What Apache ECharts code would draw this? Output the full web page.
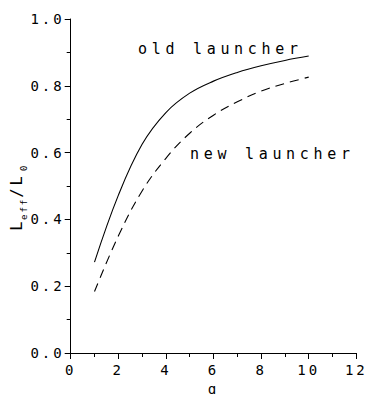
<!DOCTYPE html>
<html><head><meta charset="utf-8">
<script src="https://cdn.jsdelivr.net/npm/echarts@6/dist/echarts.min.js"></script>
<style>
html,body{margin:0;padding:0;background:#fff;}
#c{width:366px;height:394px;}
#c text[style*="14px"]{letter-spacing:3px;}
#c text[style*="15px"]{letter-spacing:4.7px;}
#c text[style*="15.5px"]{letter-spacing:3px;}
#c text[style*="9px"]{letter-spacing:2px;}
</style></head><body><div id="c"></div>
<script>
const qValues      = [1, 2, 3, 4, 5, 6, 7, 8, 9, 10];
const oldLauncher  = [0.272, 0.472, 0.625, 0.720, 0.778, 0.814, 0.840, 0.860, 0.876, 0.889];
const newLauncher  = [0.184, 0.350, 0.485, 0.583, 0.658, 0.712, 0.752, 0.784, 0.807, 0.826];
const seriesNames  = ['old launcher', 'new launcher'];
const xTickLabels  = ['0', '2', '4', '6', '8', '10', '12'];
const yTickLabels  = ['0.0', '0.2', '0.4', '0.6', '0.8', '1.0'];
const xName = 'q';

const FONT = "'DejaVu Sans Mono', monospace";
const pairs = (ys) => qValues.map((q, i) => [q, ys[i]]);

const chart = echarts.init(document.getElementById('c'), null, {renderer: 'svg'});
chart.setOption({
  animation: false,
  backgroundColor: '#fff',
  grid: {left: 70.7, right: 9.7, top: 19, bottom: 41, containLabel: false, outerBoundsMode: 'none'},
  xAxis: {
    type: 'value', min: 0, max: 12, interval: 2,
    name: xName, nameLocation: 'middle', nameGap: 25,
    nameTextStyle: {fontFamily: FONT, fontSize: 14, lineHeight: 12, color: '#000'},
    axisLine: {show: true, onZero: false, lineStyle: {color: '#000', width: 1}},
    axisTick: {show: true, inside: false, length: 6, lineStyle: {color: '#000', width: 1}},
    minorTick: {show: true, splitNumber: 2, length: 4, lineStyle: {color: '#000', width: 1}},
    splitLine: {show: false},
    axisLabel: {fontFamily: FONT, fontSize: 14, color: '#000', margin: 10,
      formatter: (v) => xTickLabels[Math.round(v / 2)]}
  },
  yAxis: {
    type: 'value', min: 0, max: 1, interval: 0.2,
    name: '{a|L}{s|eff}{b|/L}{z|0}', nameLocation: 'middle', nameGap: 35, nameRotate: 90,
    nameTextStyle: {
      color: '#000', padding: [0, 20, 0, 0],
      rich: {
        a: {fontFamily: FONT, fontSize: 15.5, lineHeight: 14, verticalAlign: 'top', color: '#000', padding: [0, 3, 0, 0]},
        b: {fontFamily: FONT, fontSize: 15.5, lineHeight: 14, verticalAlign: 'top', color: '#000', padding: [0, 6, 0, 0]},
        s: {fontFamily: FONT, fontSize: 9, lineHeight: 20, verticalAlign: 'bottom', color: '#000', padding: [0, 6, 0, 0]},
        z: {fontFamily: FONT, fontSize: 9, lineHeight: 20, verticalAlign: 'bottom', color: '#000', padding: [0, 2, 0, 0]}
      }
    },
    axisLine: {show: true, onZero: false, lineStyle: {color: '#000', width: 1}},
    axisTick: {show: true, inside: false, length: 6, lineStyle: {color: '#000', width: 1}},
    minorTick: {show: true, splitNumber: 2, length: 4, lineStyle: {color: '#000', width: 1}},
    splitLine: {show: false},
    axisLabel: {fontFamily: FONT, fontSize: 14, color: '#000', margin: 6,
      formatter: (v) => yTickLabels[Math.round(v / 0.2)]}
  },
  series: [
    {name: seriesNames[0], type: 'line', data: pairs(oldLauncher), smooth: 0.4, showSymbol: false,
     lineStyle: {color: '#000', width: 1.1, type: 'solid'}},
    {name: seriesNames[1], type: 'line', data: pairs(newLauncher), smooth: 0.4, showSymbol: false,
     lineStyle: {color: '#000', width: 1.1, type: [9, 6]}}
  ],
  graphic: [
    {type: 'text', x: 138, y: 49, style: {text: seriesNames[0], fontFamily: FONT, fontSize: 15, fill: '#000', align: 'left', verticalAlign: 'middle'}},
    {type: 'text', x: 190, y: 154, style: {text: seriesNames[1], fontFamily: FONT, fontSize: 15, fill: '#000', align: 'left', verticalAlign: 'middle'}}
  ]
});
</script></body></html>
